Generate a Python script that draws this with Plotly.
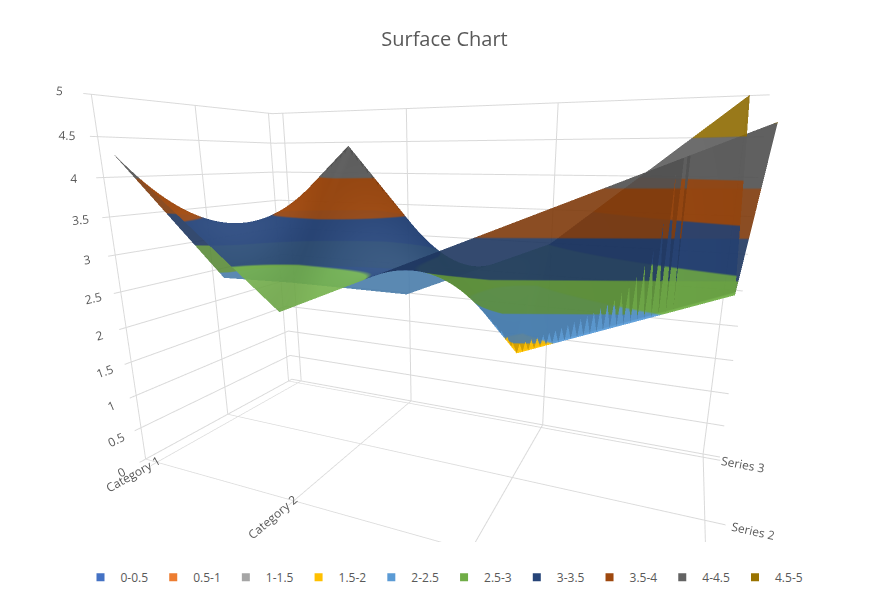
import plotly.graph_objects as go

categories = ["Category 1", "Category 2", "Category 3", "Category 4"]
series = ["Series 1", "Series 2", "Series 3"]
series1 = [4.3, 2.5, 3.5, 4.5]
series2 = [2.4, 4.4, 1.8, 2.8]
series3 = [2.0, 2.0, 3.0, 5.0]
bands = ["0-0.5", "0.5-1", "1-1.5", "1.5-2", "2-2.5", "2.5-3", "3-3.5", "3.5-4", "4-4.5", "4.5-5"]
colors = ["#4472C4", "#ED7D31", "#A5A5A5", "#FFC000", "#5B9BD5", "#70AD47",
          "#264478", "#9E480E", "#636363", "#997300"]

z = [series1, series2, series3]
cs = []
n = len(colors)
for i, c in enumerate(colors):
    cs.append([i / n, c])
    cs.append([(i + 1) / n, c])

fig = go.Figure()
fig.add_trace(go.Surface(
    x=list(range(len(categories))), y=list(range(len(series))), z=z,
    colorscale=cs, cmin=0, cmax=5, showscale=False, opacity=0.9,
    lighting=dict(ambient=0.8, diffuse=0.3, specular=0.05),
    showlegend=False, hoverinfo="z"))

for b, c in zip(bands, colors):
    fig.add_trace(go.Scatter(x=[None], y=[None], mode="markers", name=b,
                             marker=dict(symbol="square", size=8, color=c)))

ax = dict(showbackground=False, gridcolor="#D9D9D9", zeroline=False,
          showspikes=False, title="", tickfont=dict(size=12, color="#595959"))
fig.update_layout(
    width=873, height=605, paper_bgcolor="white", plot_bgcolor="white",
    font=dict(family="Open Sans", color="#595959"),
    title=dict(text="Surface Chart", x=0.5, y=0.96, font=dict(size=20, color="#595959")),
    margin=dict(l=10, r=10, t=50, b=40),
    xaxis=dict(visible=False), yaxis=dict(visible=False),
    legend=dict(orientation="h", x=0.5, xanchor="center", y=0.02, yanchor="top",
                font=dict(size=12)),
    scene=dict(
        xaxis=dict(ax, tickvals=list(range(4)), ticktext=categories),
        yaxis=dict(ax, tickvals=list(range(3)), ticktext=series),
        zaxis=dict(ax, range=[0, 5], dtick=0.5),
        aspectmode="manual", aspectratio=dict(x=2.0, y=0.9, z=1.3),
        camera=dict(eye=dict(x=0.8, y=-1.75, z=0.45), center=dict(x=0.05, y=0, z=-0.05)),
        domain=dict(x=[0, 1], y=[0.06, 0.97]),
    ),
)
fig.write_html("out.html")
